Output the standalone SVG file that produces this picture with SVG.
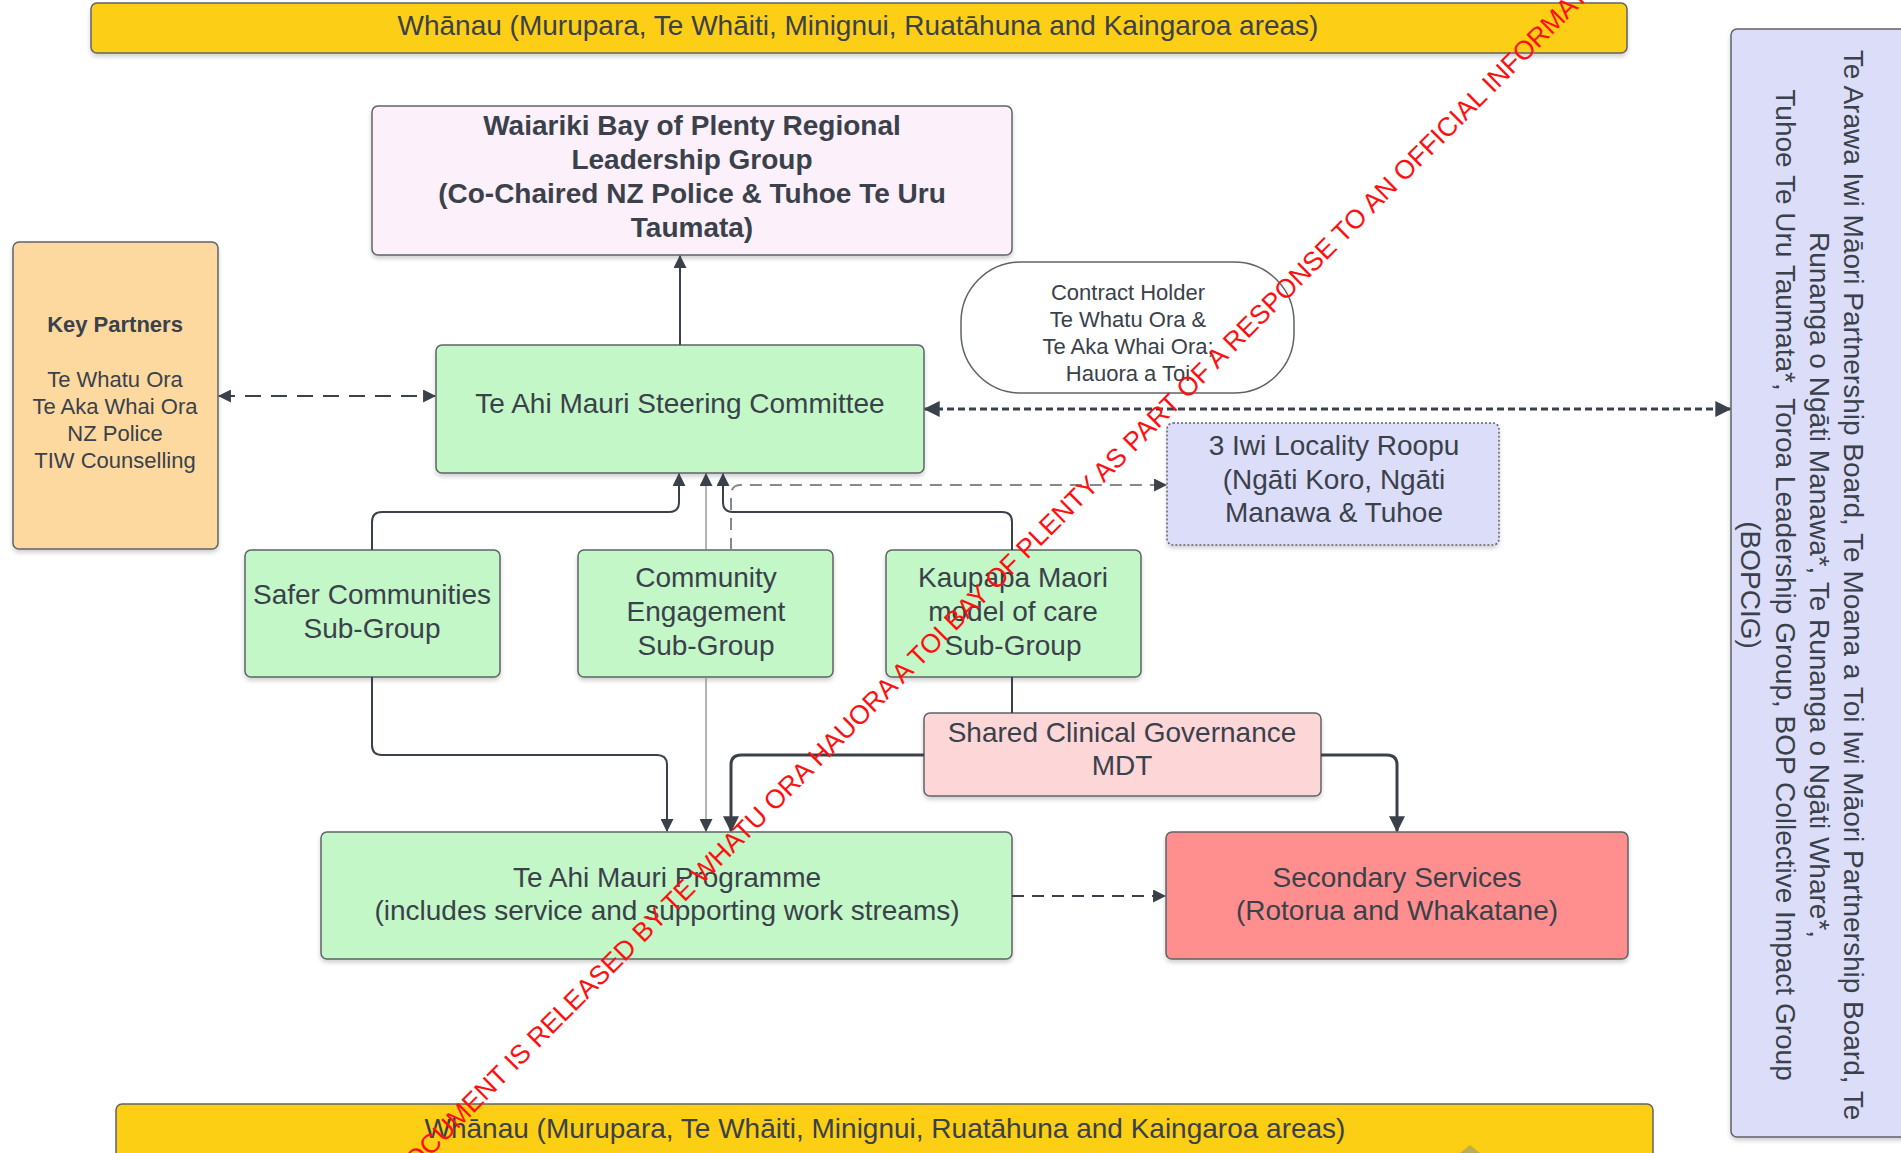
<svg xmlns="http://www.w3.org/2000/svg" width="1901" height="1153" viewBox="0 0 1901 1153">
<style>
text{font-family:"Liberation Sans",Arial,sans-serif;fill:#3a414a;text-anchor:middle}
.f28{font-size:28px}
.f22{font-size:22px}
.b{font-weight:bold}
.box{stroke:#5f6368;stroke-width:1.5}
.ln{fill:none;stroke:#3a414a;stroke-width:2}
.thin{fill:none;stroke:#8c8c8c;stroke-width:1.3}
.thick{fill:none;stroke:#3a414a;stroke-width:3}
.wm{font-size:26.5px;fill:#ff1010;text-anchor:start}
</style>
<defs>
<marker id="ah" viewBox="0 0 12 12" refX="11" refY="6" markerWidth="13" markerHeight="13" markerUnits="userSpaceOnUse" orient="auto-start-reverse">
<path d="M0,0 L12,6 L0,12 Z" fill="#3a414a"/>
</marker>
<marker id="ahl" viewBox="0 0 12 12" refX="11" refY="6" markerWidth="16" markerHeight="16" markerUnits="userSpaceOnUse" orient="auto-start-reverse">
<path d="M0,0 L12,6 L0,12 Z" fill="#3a414a"/>
</marker>
<filter id="sh" x="-5%" y="-5%" width="110%" height="120%">
<feDropShadow dx="0" dy="3" stdDeviation="2" flood-color="#000" flood-opacity="0.18"/>
</filter>
</defs>
<rect width="1901" height="1153" fill="#ffffff"/>

<g id="whanau-top">
<rect class="box" x="91" y="3" width="1536" height="50" rx="6" fill="#fcce14" filter="url(#sh)"/>
<text class="f28" x="858" y="35">Whānau (Murupara, Te Whāiti, Minignui, Ruatāhuna and Kaingaroa areas)</text>
</g>

<g id="whanau-bottom">
<rect class="box" x="116" y="1104" width="1537" height="70" rx="6" fill="#fcce14"/>
<text class="f28" x="885" y="1138">Whānau (Murupara, Te Whāiti, Minignui, Ruatāhuna and Kaingaroa areas)</text>
</g>

<g id="waiariki">
<rect class="box" x="372" y="106" width="640" height="149" rx="6" fill="#fcf0fb" filter="url(#sh)"/>
<text class="f28 b" x="692" y="135">Waiariki Bay of Plenty Regional</text>
<text class="f28 b" x="692" y="169">Leadership Group</text>
<text class="f28 b" x="692" y="203">(Co-Chaired NZ Police &amp; Tuhoe Te Uru</text>
<text class="f28 b" x="692" y="237">Taumata)</text>
</g>

<g id="key-partners">
<rect class="box" x="13" y="242" width="205" height="307" rx="6" fill="#fdd9a0" filter="url(#sh)"/>
<text class="f22 b" x="115" y="332">Key Partners</text>
<text class="f22" x="115" y="387">Te Whatu Ora</text>
<text class="f22" x="115" y="414">Te Aka Whai Ora</text>
<text class="f22" x="115" y="441">NZ Police</text>
<text class="f22" x="115" y="468">TIW Counselling</text>
</g>

<g id="steering">
<rect class="box" x="436" y="345" width="488" height="128" rx="6" fill="#c3f7c8" filter="url(#sh)"/>
<text class="f28" x="680" y="413">Te Ahi Mauri Steering Committee</text>
</g>

<g id="contract-holder">
<rect x="961" y="262" width="333" height="131" rx="60" ry="60" fill="#ffffff" stroke="#5f6368" stroke-width="1.5"/>
<text class="f22" x="1128" y="300">Contract Holder</text>
<text class="f22" x="1128" y="327">Te Whatu Ora &amp;</text>
<text class="f22" x="1128" y="354">Te Aka Whai Ora;</text>
<text class="f22" x="1128" y="381">Hauora a Toi</text>
</g>

<g id="iwi-locality">
<rect x="1167" y="423" width="332" height="122" rx="6" fill="#dcdef9" stroke="#5f6368" stroke-width="1.5" stroke-dasharray="2 2" filter="url(#sh)"/>
<text class="f28" x="1334" y="455">3 Iwi Locality Roopu</text>
<text class="f28" x="1334" y="489">(Ngāti Koro, Ngāti</text>
<text class="f28" x="1334" y="522">Manawa &amp; Tuhoe</text>
</g>

<g id="partnership-boards">
<rect class="box" x="1731" y="29" width="190" height="1108" rx="6" fill="#dcdef9" filter="url(#sh)"/>
<g transform="translate(1800,585) rotate(90)">
<text class="f28" x="0" y="-44">Te Arawa Iwi Māori Partnership Board, Te Moana a Toi Iwi Māori Partnership Board, Te</text>
<text class="f28" x="0" y="-10">Runanga o Ngāti Manawa*, Te Runanga o Ngāti Whare*,</text>
<text class="f28" x="0" y="24">Tuhoe Te Uru Taumata*, Toroa Leadership Group, BOP Collective Impact Group</text>
<text class="f28" x="0" y="59">(BOPCIG)</text>
</g>
</g>

<g id="safer-communities">
<rect class="box" x="245" y="550" width="255" height="127" rx="6" fill="#c3f7c8" filter="url(#sh)"/>
<text class="f28" x="372" y="604">Safer Communities</text>
<text class="f28" x="372" y="638">Sub-Group</text>
</g>

<g id="community-engagement">
<rect class="box" x="578" y="550" width="255" height="127" rx="6" fill="#c3f7c8" filter="url(#sh)"/>
<text class="f28" x="706" y="587">Community</text>
<text class="f28" x="706" y="621">Engagement</text>
<text class="f28" x="706" y="655">Sub-Group</text>
</g>

<g id="kaupapa-maori">
<rect class="box" x="886" y="550" width="255" height="127" rx="6" fill="#c3f7c8" filter="url(#sh)"/>
<text class="f28" x="1013" y="587">Kaupapa Maori</text>
<text class="f28" x="1013" y="621">model of care</text>
<text class="f28" x="1013" y="655">Sub-Group</text>
</g>

<g id="shared-clinical">
<rect class="box" x="924" y="713" width="397" height="83" rx="6" fill="#fdd6d8" filter="url(#sh)"/>
<text class="f28" x="1122" y="742">Shared Clinical Governance</text>
<text class="f28" x="1122" y="775">MDT</text>
</g>

<g id="programme">
<rect class="box" x="321" y="832" width="691" height="127" rx="6" fill="#c3f7c8" filter="url(#sh)"/>
<text class="f28" x="667" y="887">Te Ahi Mauri Programme</text>
<text class="f28" x="667" y="920">(includes service and supporting work streams)</text>
</g>

<g id="secondary-services">
<rect class="box" x="1166" y="832" width="462" height="127" rx="6" fill="#ff8f8f" filter="url(#sh)"/>
<text class="f28" x="1397" y="887">Secondary Services</text>
<text class="f28" x="1397" y="920">(Rotorua and Whakatane)</text>
</g>

<g id="connectors">
<path class="ln" d="M680,345 V256" marker-end="url(#ah)"/>
<path class="ln" d="M219,396 H435" stroke-dasharray="16 10" marker-start="url(#ah)" marker-end="url(#ah)"/>
<path fill="none" stroke="#3a414a" stroke-width="3" d="M925,409 H1730" stroke-dasharray="7 4" marker-start="url(#ahl)" marker-end="url(#ahl)"/>
<path class="ln" d="M372,550 V522 Q372,512 382,512 H669 Q679,512 679,502 V474" marker-end="url(#ah)"/>
<path class="thin" d="M706,550 V474" marker-end="url(#ah)"/>
<path class="ln" d="M1012,550 V522 Q1012,512 1002,512 H733 Q723,512 723,502 V474" marker-end="url(#ah)"/>
<path fill="none" stroke="#888" stroke-width="2" stroke-dasharray="12 8" d="M731,550 V495 Q731,485 741,485 H1166" marker-end="url(#ah)"/>
<path class="ln" d="M372,677 V745 Q372,755 382,755 H657 Q667,755 667,765 V831" marker-end="url(#ah)"/>
<path class="thin" d="M706,677 V831" marker-end="url(#ah)"/>
<path class="thick" d="M924,755 H741 Q731,755 731,765 V831" marker-end="url(#ahl)"/>
<path class="ln" d="M1012,677 V713"/>
<path class="thick" d="M1321,755 H1387 Q1397,755 1397,765 V831" marker-end="url(#ahl)"/>
<path class="ln" d="M1012,896 H1165" stroke-dasharray="12 8" marker-end="url(#ah)"/>
</g>

<polygon points="1470,1145 1460,1153 1480,1153" fill="#bcae52"/>

<text class="wm" x="402" y="1185" transform="rotate(-45 402 1185)">DOCUMENT IS RELEASED BY TE WHATU ORA HAUORA A TOI BAY OF PLENTY AS PART OF A RESPONSE TO AN OFFICIAL INFORMATION</text>
</svg>
